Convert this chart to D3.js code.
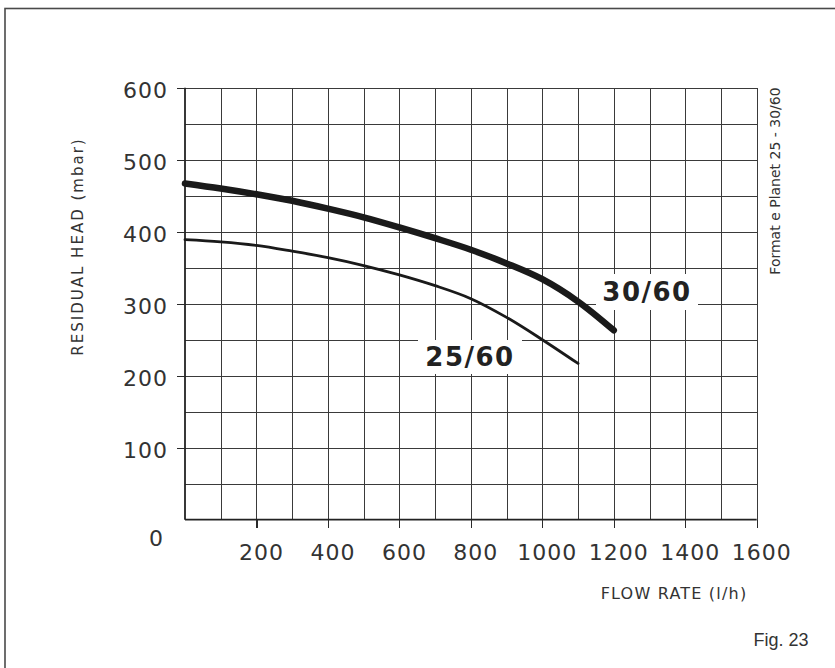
<!DOCTYPE html>
<html>
<head>
<meta charset="utf-8">
<script src="https://cdn.jsdelivr.net/npm/d3@7"></script>
<style>
  html, body { margin: 0; padding: 0; background: #fff; }
  svg { display: block; }
  .grid line { stroke: #3a3a3a; stroke-width: 1; shape-rendering: crispEdges; }
  .grid path { display: none; }
  .ax path { display: none; }
  .ax line { stroke: #2a2a2a; stroke-width: 1.2; shape-rendering: crispEdges; }
  .ax text { font-family: "DejaVu Sans", sans-serif; font-size: 22px; fill: #333; letter-spacing: 1px; }
</style>
</head>
<body>
<svg id="chart" width="835" height="668"></svg>
<script>
// Flow rate (l/h) sample points and residual head (mbar) for each pump
const flowRate = [0, 100, 200, 300, 400, 500, 600, 700, 800, 900, 1000, 1100, 1200];
const head3060 = [467, 460, 452, 443, 432, 420, 406, 391, 375, 356, 334, 303, 263];
const head2560 = [389, 386, 381, 373, 364, 353, 340, 325, 307, 281, 250, 217];

const xTickValues = [200, 400, 600, 800, 1000, 1200, 1400, 1600];
const yTickValues = [100, 200, 300, 400, 500, 600];
const xGridValues = d3.range(100, 1601, 100);
const yGridValues = d3.range(50, 601, 50);

const svg = d3.select("#chart");

// outer frame (only top and left edges fall inside the page)
svg.append("rect")
  .attr("x", 5).attr("y", 8.5)
  .attr("width", 900).attr("height", 900)
  .attr("fill", "none").attr("stroke", "#4a4a4a").attr("stroke-width", 1.6);

const x = d3.scaleLinear().domain([0, 1600]).range([185, 756.7]);
const y = d3.scaleLinear().domain([0, 600]).range([519.7, 87.7]);

// grid
svg.append("g").attr("class", "grid")
  .attr("transform", `translate(0,${y(0)})`)
  .call(d3.axisBottom(x).tickValues(xGridValues).tickSize(-(y(0) - y(600))).tickFormat(""));
svg.append("g").attr("class", "grid")
  .attr("transform", `translate(${x(0)},0)`)
  .call(d3.axisLeft(y).tickValues(yGridValues).tickSize(-(x(1600) - x(0))).tickFormat(""));

// plot frame
svg.append("line").attr("x1", x(0)).attr("x2", x(0)).attr("y1", y(600)).attr("y2", y(0))
  .attr("stroke", "#222").attr("stroke-width", 1.8);
svg.append("line").attr("x1", x(0)).attr("x2", x(1600)).attr("y1", y(0)).attr("y2", y(0))
  .attr("stroke", "#222").attr("stroke-width", 1.8);

// axes with ticks and labels
const xAxis = svg.append("g").attr("class", "ax")
  .attr("transform", `translate(0,${y(0)})`)
  .call(d3.axisBottom(x).tickValues(xTickValues).tickSize(8).tickPadding(17).tickFormat(d3.format("d")));
xAxis.selectAll("text").attr("dx", 4.5);

svg.append("g").attr("class", "ax")
  .attr("transform", `translate(${x(0)},0)`)
  .call(d3.axisLeft(y).tickValues(yTickValues).tickSize(8).tickPadding(9).tickFormat(d3.format("d")))
  .selectAll("text").attr("dy", "0.46em");

// lone zero label at the corner
svg.append("text")
  .attr("x", 156).attr("y", 538).attr("dy", "0.36em")
  .attr("text-anchor", "middle")
  .attr("font-family", "DejaVu Sans, sans-serif").attr("font-size", 22).attr("fill", "#333")
  .text("0");

// curves
const line = d3.line()
  .x((d, i) => x(flowRate[i]))
  .y(d => y(d))
  .curve(d3.curveCatmullRom.alpha(0.5));

svg.append("path").datum(head2560)
  .attr("d", line)
  .attr("fill", "none").attr("stroke", "#1a1a1a").attr("stroke-width", 2.8)
  .attr("stroke-linecap", "round");

svg.append("path").datum(head3060)
  .attr("d", line)
  .attr("fill", "none").attr("stroke", "#1a1a1a").attr("stroke-width", 6.5)
  .attr("stroke-linecap", "round");

// curve labels on white patches
function curveLabel(text, cx, cy, w, h) {
  svg.append("rect")
    .attr("x", cx - w / 2).attr("y", cy - h / 2)
    .attr("width", w).attr("height", h).attr("fill", "#fff");
  svg.append("text")
    .attr("x", cx).attr("y", cy).attr("dy", "0.36em")
    .attr("text-anchor", "middle")
    .attr("font-family", "DejaVu Sans, sans-serif").attr("font-weight", "bold")
    .attr("font-size", 26).attr("letter-spacing", 1.5).attr("fill", "#222")
    .text(text);
}
curveLabel("30/60", 647, 292, 102, 36);
curveLabel("25/60", 470, 357, 104, 34);

// axis titles
svg.append("text")
  .attr("x", 674).attr("y", 593).attr("dy", "0.36em")
  .attr("text-anchor", "middle")
  .attr("font-family", "DejaVu Sans, sans-serif").attr("font-size", 16)
  .attr("letter-spacing", 1.2).attr("fill", "#333")
  .text("FLOW RATE (l/h)");

svg.append("text")
  .attr("transform", "translate(78,246.5) rotate(-90)")
  .attr("dy", "0.36em")
  .attr("text-anchor", "middle")
  .attr("font-family", "DejaVu Sans, sans-serif").attr("font-size", 15)
  .attr("letter-spacing", 2).attr("fill", "#333")
  .text("RESIDUAL HEAD (mbar)");

svg.append("text")
  .attr("transform", "translate(775,181) rotate(-90)")
  .attr("dy", "0.36em")
  .attr("text-anchor", "middle")
  .attr("font-family", "DejaVu Sans, sans-serif").attr("font-size", 14)
  .attr("fill", "#333")
  .text("Format e Planet 25 - 30/60");

svg.append("text")
  .attr("x", 781).attr("y", 646)
  .attr("text-anchor", "middle")
  .attr("font-family", "Liberation Sans, Arial, sans-serif").attr("font-size", 18)
  .attr("fill", "#333")
  .text("Fig. 23");
</script>
</body>
</html>
